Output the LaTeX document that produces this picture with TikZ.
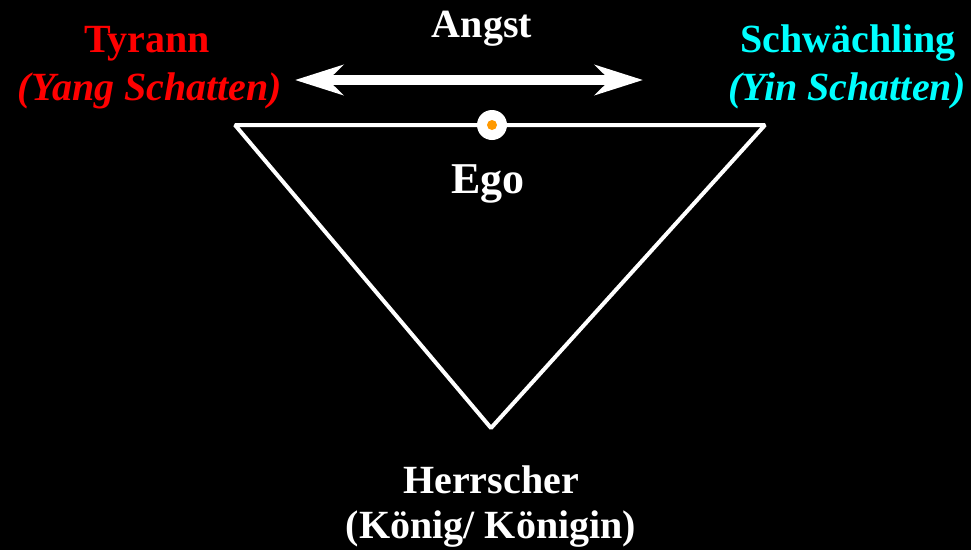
\documentclass[tikz,border=0pt]{standalone}
\usepackage{fontspec}
\setmainfont{Liberation Serif}
\usetikzlibrary{arrows.meta}
\definecolor{tyred}{RGB}{255,0,0}
\definecolor{yincyan}{RGB}{0,255,255}
\definecolor{egoorange}{RGB}{255,153,0}
\tikzset{
  lbl/.style={anchor=base, inner sep=0pt, font=\fontsize{40}{48}\selectfont\bfseries},
  ilbl/.style={lbl, font=\fontsize{40}{48}\selectfont\bfseries\itshape},
  tri/.style={draw=white, line width=4pt, line join=bevel},
  angstarrow/.style={draw=white, line width=10pt,
    {Stealth[length=48pt,width=30pt,inset=15pt]}-{Stealth[length=48pt,width=30pt,inset=15pt]}}
}
\begin{document}
\begin{tikzpicture}[x=1pt,y=-1pt]
\useasboundingbox[fill=black] (0,0) rectangle (971,550);
% triangle
\coordinate (tl) at (235,125);
\coordinate (tr) at (765,125);
\coordinate (bt) at (491,428);
\draw[tri] (tl) -- (tr) -- (bt) -- cycle;
% ego point
\node[circle, fill=white, minimum size=30pt, inner sep=0pt] (egopt) at (492,125) {};
\node[circle, fill=egoorange, minimum size=10pt, inner sep=0pt] (egodot) at (egopt.center) {};
% arrow
\coordinate (al) at (295,80);
\coordinate (ar) at (643,80);
\draw[angstarrow] (al) -- (ar);
% labels
\node[lbl, text=white] (angst) at (482,37) {Angst};
\node[lbl, text=white, font=\fontsize{44}{52}\selectfont\bfseries] (ego) at (488,193) {Ego};
\node[lbl, text=tyred] (tyrann) at (147,52) {Tyrann};
\node[ilbl, text=tyred] (yang) at (150,100) {(Yang Schatten)};
\node[lbl, text=yincyan] (schw) at (848,52) {Schwächling};
\node[ilbl, text=yincyan] (yin) at (847,100) {(Yin Schatten)};
\node[lbl, text=white] (herr) at (491,493) {Herrscher};
\node[lbl, text=white] (koenig) at (491,538) {(König/ Königin)};
\end{tikzpicture}
\end{document}
